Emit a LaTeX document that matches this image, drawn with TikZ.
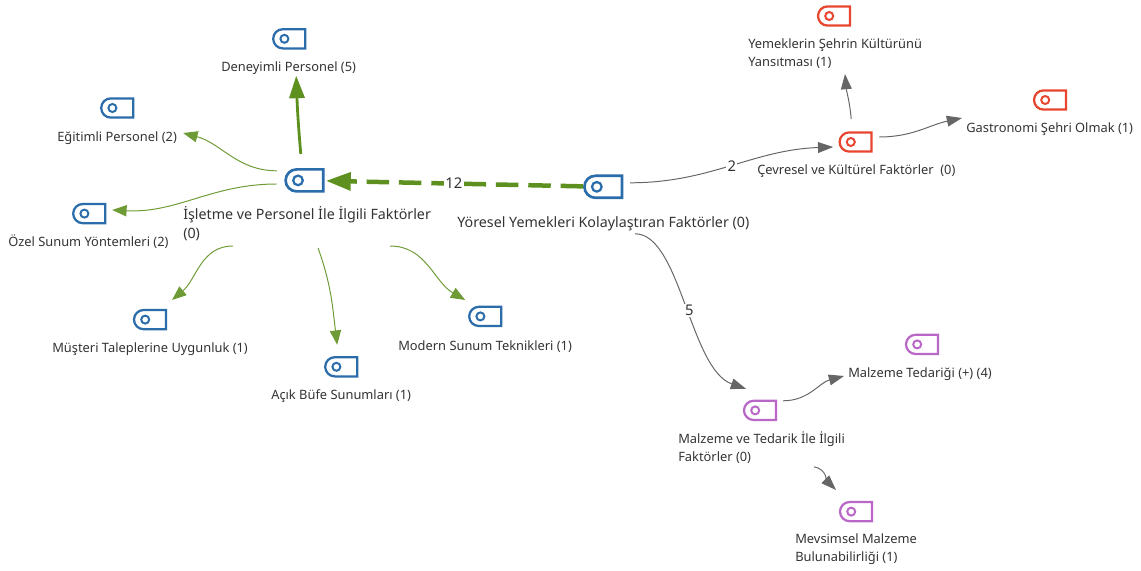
\documentclass[tikz,border=0pt]{standalone}
\usepackage{fontspec}
\setmainfont{Noto Sans}
\usetikzlibrary{arrows.meta, shapes.misc}

\definecolor{iconblue}{HTML}{2B6CAB}
\definecolor{iconred}{HTML}{E8452F}
\definecolor{iconpurple}{HTML}{BA68C8}
\definecolor{linkgreen}{HTML}{5E9020}
\definecolor{linkgray}{HTML}{666666}

\begin{document}
\begin{tikzpicture}[
    iconbox/.style={rounded rectangle, rounded rectangle east arc=none, draw=#1, line width=1.6pt, inner sep=0pt,
      minimum width=8mm, minimum height=4.8mm,
      path picture={\draw[#1, line width=1.4pt] ([xshift=2.8mm]path picture bounding box.west) circle (1mm);}},
    bigbox/.style={rounded rectangle, rounded rectangle east arc=none, draw=#1, line width=1.9pt, inner sep=0pt,
      minimum width=9.4mm, minimum height=5.5mm,
      path picture={\draw[#1, line width=1.6pt] ([xshift=3.1mm]path picture bounding box.west) circle (1.2mm);}},
    txt/.style={anchor=west, inner sep=0pt, align=left, text=black!80, font=\fontsize{9.15}{12.8}\selectfont},
    bigtxt/.style={txt, font=\fontsize{10.15}{13.5}\selectfont},
    count/.style={fill=white, inner sep=1pt, text=black!80, font=\fontsize{10.5}{12}\selectfont},
    grayarrow/.style={-{Triangle[length=3.8mm, width=2.7mm]}, draw=linkgray, line width=0.7pt},
    greenarrow/.style={-{Triangle[length=3.6mm, width=2.8mm]}, draw=linkgreen!90, line width=0.7pt},
    thickarrow/.style={-{Triangle[length=5.6mm, width=3.8mm]}, draw=linkgreen, line width=2pt},
    dasharrow/.style={-{Triangle[length=6.2mm, width=4.4mm]}, draw=linkgreen, line width=3.2pt, dash pattern=on 16pt off 7pt}
  ]
  \useasboundingbox (0,0) rectangle (28.525,14.25);

  \coordinate (mainp) at (15.08, 9.58);
  \coordinate (islp) at (7.61, 9.74);
  \coordinate (denp) at (7.23, 13.28);
  \coordinate (egip) at (2.93, 11.55);
  \coordinate (ozep) at (2.23, 8.91);
  \coordinate (musp) at (3.75, 6.26);
  \coordinate (acip) at (8.53, 5.08);
  \coordinate (modp) at (12.13, 6.34);

  \coordinate (cevp) at (21.39, 10.7);
  \coordinate (yemp) at (20.85, 13.85);
  \coordinate (gasp) at (26.25, 11.75);

  \coordinate (mvep) at (19.0, 3.99);
  \coordinate (mtep) at (23.05, 5.64);
  \coordinate (mevp) at (21.4, 1.46);

  % Centre
  \node[bigbox=iconblue] (main) at (mainp) {};
  \node[bigtxt] (mainl) at (11.425, 8.65) {Yöresel Yemekleri Kolaylaştıran Faktörler (0)};

  % Blue group
  \node[bigbox=iconblue] (isl) at (islp) {};
  \node[bigtxt] (isll) at (4.575, 8.66) {İşletme ve Personel İle İlgili Faktörler\\(0)};
  \node[iconbox=iconblue] (den) at (denp) {};
  \node[txt] (denl) at (5.525, 12.55) {Deneyimli Personel (5)};
  \node[iconbox=iconblue] (egi) at (egip) {};
  \node[txt] (egil) at (1.425, 10.8) {Eğitimli Personel (2)};
  \node[iconbox=iconblue] (oze) at (ozep) {};
  \node[txt] (ozel) at (0.2, 8.2) {Özel Sunum Yöntemleri (2)};
  \node[iconbox=iconblue] (mus) at (musp) {};
  \node[txt] (musl) at (1.3, 5.525) {Müşteri Taleplerine Uygunluk (1)};
  \node[iconbox=iconblue] (aci) at (acip) {};
  \node[txt] (acil) at (6.775, 4.35) {Açık Büfe Sunumları (1)};
  \node[iconbox=iconblue] (mod) at (modp) {};
  \node[txt] (modl) at (9.95, 5.575) {Modern Sunum Teknikleri (1)};

  % Red group
  \node[iconbox=iconred] (cev) at (cevp) {};
  \node[txt] (cevl) at (18.925, 9.97) {Çevresel ve Kültürel Faktörler~ (0)};
  \node[iconbox=iconred] (yem) at (yemp) {};
  \node[txt] (yeml) at (18.7, 12.9) {Yemeklerin Şehrin Kültürünü\\Yansıtması (1)};
  \node[iconbox=iconred] (gas) at (gasp) {};
  \node[txt] (gasl) at (24.15, 11.03) {Gastronomi Şehri Olmak (1)};

  % Purple group
  \node[iconbox=iconpurple] (mve) at (mvep) {};
  \node[txt] (mvel) at (16.95, 3.05) {Malzeme ve Tedarik İle İlgili\\Faktörler (0)};
  \node[iconbox=iconpurple] (mte) at (mtep) {};
  \node[txt] (mtel) at (21.2, 4.9) {Malzeme Tedariği (+) (4)};
  \node[iconbox=iconpurple] (mev) at (mevp) {};
  \node[txt] (mevl) at (19.875, 0.52) {Mevsimsel Malzeme\\Bulunabilirliği (1)};

  % Connect the boxes
  \draw[dasharrow, shorten >=1pt] (main) -- node[count] (n12) {12} (isl);
  \draw[thickarrow] ([shift={(-0.09,0.66)}]isl.center) to[out=95, in=-88] ([shift={(0.175,-0.925)}]den.center);
  \draw[greenarrow] ([shift={(-0.69,0.24)}]isl.center) to[out=180, in=-15] ([shift={(1.65,-0.625)}]egi.center);
  \draw[greenarrow] ([shift={(-0.69,-0.09)}]isl.center) to[out=180, in=-3] ([shift={(0.575,0.09)}]oze.center);
  \draw[greenarrow] ([shift={(-1.79,-1.64)}]isl.center) to[out=180, in=40] ([shift={(0.55,0.49)}]mus.center);
  \draw[greenarrow] ([shift={(0.34,-1.69)}]isl.center) to[out=-70, in=97] ([shift={(-0.1,0.55)}]aci.center);
  \draw[greenarrow] ([shift={(2.14,-1.64)}]isl.center) to[out=0, in=150] ([shift={(-0.5,0.41)}]mod.center);

  \draw[grayarrow] ([shift={(0.675,0.1)}]main.center) to[out=0, in=182] node[count, pos=0.5] (n2) {2} ([shift={(-0.56,-0.125)}]cev.center);
  \draw[grayarrow] ([shift={(-0.11,0.575)}]cev.center) to[out=95, in=-85] ([shift={(0.275,-1.45)}]yem.center);
  \draw[grayarrow] ([shift={(0.59,0.125)}]cev.center) to[out=0, in=192] ([shift={(-2.2,-0.45)}]gas.center);

  \draw[grayarrow] ([shift={(0.8,-1.175)}]main.center) to[out=0, in=161, out distance=1.125cm, in distance=1.48cm] node[count, pos=0.53] (n5) {5} ([shift={(-0.35,0.54)}]mve.center);
  \draw[grayarrow] ([shift={(0.575,0.24)}]mve.center) to[out=0, in=195] ([shift={(-1.95,-0.79)}]mte.center);
  \draw[grayarrow] ([shift={(1.35,-1.41)}]mve.center) to[out=-10, in=135] ([shift={(-0.5,0.54)}]mev.center);

\end{tikzpicture}
\end{document}
